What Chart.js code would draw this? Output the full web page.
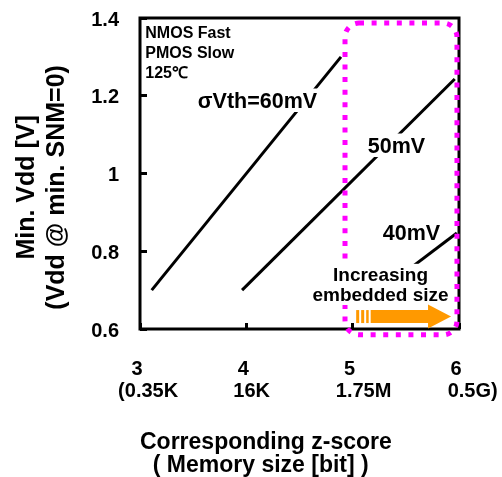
<!DOCTYPE html>
<html><head><meta charset="utf-8">
<script src="https://cdn.jsdelivr.net/npm/chart.js@4/dist/chart.umd.min.js"></script>
<style>html,body{margin:0;padding:0;background:#fff;}canvas{display:block;}</style>
</head><body>
<canvas id="c" width="502" height="477"></canvas>
<script>
// ---- data ----
const zScoreTicks = [3, 4, 5, 6];
const zScoreLabels = ['3', '4', '5', '6'];
const memorySizeLabels = ['(0.35K', '16K', '1.75M', '0.5G)'];
const vddTicks = [0.6, 0.8, 1.0, 1.2, 1.4];
const vddLabels = ['0.6', '0.8', '1', '1.2', '1.4'];
const sigma60Z = [3.11, 4.89];
const sigma60V = [0.70, 1.30];
const sigma50Z = [3.96, 5.96];
const sigma50V = [0.70, 1.243];
const sigma40Z = [5.27, 5.98];
const sigma40V = [0.70, 0.847];

const FONT = "Arial, 'Liberation Sans', sans-serif";
const memoryIndent = [4, 3, 5, 6];

function pts(xs, ys) { return xs.map((v, i) => ({x: v, y: ys[i]})); }
function ds(xs, ys) {
  return {data: pts(xs, ys), showLine: true, borderColor: '#000', borderWidth: 3,
          pointRadius: 0, fill: false, borderCapStyle: 'butt'};
}

function roundRectPath(ctx, x, y, w, h, r) {
  ctx.beginPath();
  ctx.moveTo(x + r, y);
  ctx.lineTo(x + w - r, y);
  ctx.arcTo(x + w, y, x + w, y + r, r);
  ctx.lineTo(x + w, y + h - r);
  ctx.arcTo(x + w, y + h, x + w - r, y + h, r);
  ctx.lineTo(x + r, y + h);
  ctx.arcTo(x, y + h, x, y + h - r, r);
  ctx.lineTo(x, y + r);
  ctx.arcTo(x, y, x + r, y, r);
  ctx.closePath();
}

function label(ctx, lines, cx, baselines, size, align, bg) {
  ctx.font = 'bold ' + size + 'px ' + FONT;
  ctx.textAlign = align;
  ctx.textBaseline = 'alphabetic';
  if (bg) {
    let w = 0;
    lines.forEach(t => { w = Math.max(w, ctx.measureText(t).width); });
    const x0 = align === 'center' ? cx - w / 2 : cx;
    const top = baselines[0] - size * 0.72 - 4;
    const bot = baselines[baselines.length - 1] + 4;
    ctx.fillStyle = '#fff';
    ctx.fillRect(x0 - 3, top, w + 6, bot - top);
  }
  ctx.fillStyle = '#000';
  lines.forEach((t, i) => ctx.fillText(t, cx, baselines[i]));
}

const annotations = {
  id: 'annotations',
  afterDatasetsDraw(chart) {
    const {ctx, chartArea: a, scales: {x, y}} = chart;
    const X = v => x.getPixelForValue(v), Y = v => y.getPixelForValue(v);
    ctx.save();
    // frame
    ctx.strokeStyle = '#000';
    ctx.lineWidth = 3;
    ctx.strokeRect(a.left, a.top, a.right - a.left, a.bottom - a.top);
    // magenta dotted rounded box
    const bx1 = X(4.928), bx2 = X(5.981), by1 = Y(1.387), by2 = Y(0.585);
    roundRectPath(ctx, bx1, by1, bx2 - bx1, by2 - by1, 14);
    ctx.setLineDash([5, 7.6]);
    ctx.lineWidth = 5;
    ctx.strokeStyle = '#FF00FF';
    ctx.stroke();
    ctx.setLineDash([]);
    // text
    label(ctx, ['NMOS Fast', 'PMOS Slow', '125\u2103'], X(3.05), [Y(1.3486), Y(1.2979), Y(1.2455)], 16, 'left', false);
    label(ctx, ['\u03c3Vth=60mV'], X(4.105), [Y(1.1685)], 21.5, 'center', true);
    label(ctx, ['50mV'], X(5.412), [Y(1.0527)], 21.5, 'center', true);
    label(ctx, ['40mV'], X(5.553), [Y(0.8302)], 21.5, 'center', false);
    label(ctx, ['Increasing', 'embedded size'], X(5.262), [Y(0.7222), Y(0.672)], 19, 'center', true);
    // orange arrow
    const tail = X(5.033), tip = X(5.925), cy = Y(0.632);
    ctx.fillStyle = '#FF9900';
    ctx.fillRect(tail, cy - 6.5, 3, 13);
    ctx.fillRect(tail + 5, cy - 6.5, 3, 13);
    ctx.fillRect(tail + 10, cy - 6.5, 2.5, 13);
    const headStart = tip - 23;
    ctx.beginPath();
    ctx.moveTo(tail + 14.5, cy - 6.5);
    ctx.lineTo(headStart, cy - 6.5);
    ctx.lineTo(headStart, cy - 12);
    ctx.lineTo(tip, cy);
    ctx.lineTo(headStart, cy + 12);
    ctx.lineTo(headStart, cy + 6.5);
    ctx.lineTo(tail + 14.5, cy + 6.5);
    ctx.closePath();
    ctx.fill();
    ctx.restore();
  }
};

function noPad(s) { s.paddingLeft = 0; s.paddingRight = 0; s.paddingTop = 0; s.paddingBottom = 0; }

new Chart(document.getElementById('c'), {
  type: 'scatter',
  data: {datasets: [ds(sigma60Z, sigma60V), ds(sigma50Z, sigma50V), ds(sigma40Z, sigma40V)]},
  options: {
    responsive: false, animation: false, devicePixelRatio: 1,
    layout: {padding: {left: 0, right: 43, top: 18, bottom: 0}},
    plugins: {legend: {display: false}, tooltip: {enabled: false}},
    scales: {
      x: {
        type: 'linear', min: 3, max: 6,
        afterBuildTicks: s => { s.ticks = zScoreTicks.map(v => ({value: v})); },
        ticks: {
          autoSkip: false, maxRotation: 0, padding: 35, labelOffset: -3,
          font: {family: FONT, size: 20, weight: 'bold', lineHeight: 1.1}, color: '#000',
          callback: (v, i) => [zScoreLabels[i], ' '.repeat(memoryIndent[i]) + memorySizeLabels[i]]
        },
        grid: {drawOnChartArea: false, tickLength: -6, color: '#000', lineWidth: 3},
        border: {display: false},
        title: {display: true, align: 'start', text: ['Corresponding z-score', '  ( Memory size [bit] )'],
                font: {family: FONT, size: 23, weight: 'bold', lineHeight: 1.0}, color: '#000', padding: {top: 0, bottom: 0}},
        afterFit: s => { s.height = 148; noPad(s); }
      },
      y: {
        type: 'linear', min: 0.6, max: 1.4,
        afterBuildTicks: s => { s.ticks = vddTicks.map(v => ({value: v})); },
        ticks: {padding: 28, labelOffset: 2, font: {family: FONT, size: 20, weight: 'bold'}, color: '#000',
                callback: (v, i) => vddLabels[i]},
        grid: {drawOnChartArea: false, tickLength: -7, color: '#000', lineWidth: 3},
        border: {display: false},
        title: {display: true, text: ['Min. Vdd [V]    ', '(Vdd @ min. SNM=0)    '],
                font: {family: FONT, size: 25, weight: 'bold'}, color: '#000', padding: {top: 12.5, bottom: 0}},
        afterFit: s => { s.width = 140; noPad(s); }
      }
    }
  },
  plugins: [annotations]
});
</script>
</body></html>
